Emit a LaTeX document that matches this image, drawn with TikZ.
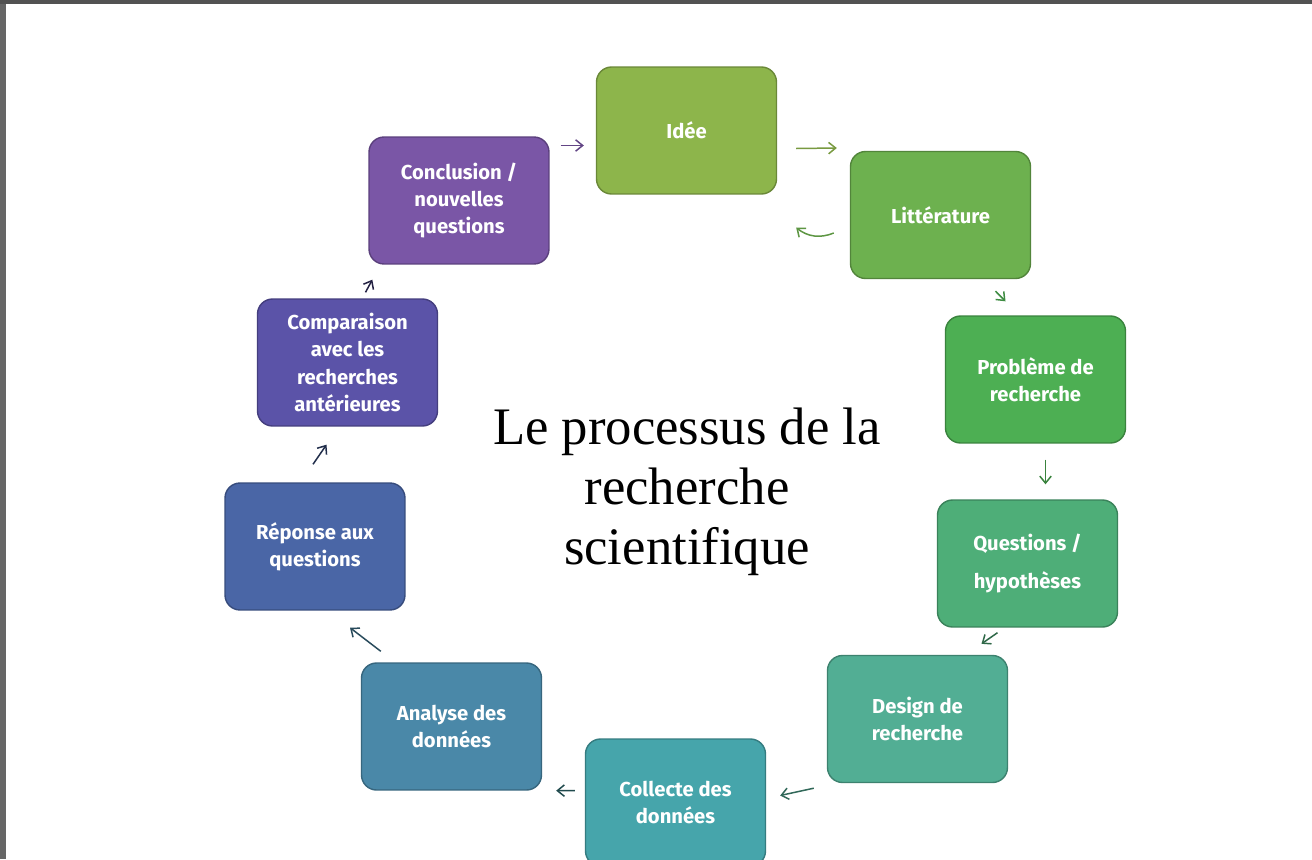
\documentclass[tikz,border=0pt]{standalone}
\usepackage{fontspec}
\setmainfont{Liberation Serif}
\setsansfont{Fira Sans}
\usetikzlibrary{calc,arrows.meta}

% Colours of the steps, from green to purple
\definecolor{cIdee}{HTML}{8DB54B}
\definecolor{cLitt}{HTML}{6DB14F}
\definecolor{cProb}{HTML}{4DAF53}
\definecolor{cQuest}{HTML}{4EAE78}
\definecolor{cDesign}{HTML}{52AE94}
\definecolor{cCollecte}{HTML}{46A5AB}
\definecolor{cAnalyse}{HTML}{4A88A8}
\definecolor{cReponse}{HTML}{4A66A6}
\definecolor{cComp}{HTML}{5B53A8}
\definecolor{cConcl}{HTML}{7A56A6}

\begin{document}
\begin{tikzpicture}[x=0.02cm, y=-0.02cm]

        % One unit is one pixel of the reference, y runs downwards
        \tikzset{
            etape/.style={draw=#1!75!black, fill=#1, line width=0.8pt,
                rounded corners=0.3cm, minimum width=3.6cm, minimum height=2.54cm,
                align=center, text=white,
                font=\sffamily\bfseries\fontsize{11.5}{15.5}\selectfont},
            fleche/.style={draw=#1, line width=0.85pt,
                -{Straight Barb[length=4pt, width=6.5pt]}}
        }

        % Page with the grey frame on the left and on top
        \clip (0, 0) rectangle (1312, 859);
        \fill[white] (0, 0) rectangle (1312, 859);
        \fill[black!60] (0, 0) rectangle (6, 859);
        \fill[black!68] (0, 0) rectangle (1312, 4);

        % Steps of the cycle, clockwise from the top
        \begin{scope}
            \node[etape=cIdee] (idee) at (686.5, 130.5) {Idée};
            \node[etape=cLitt] (litt) at (940.5, 215) {Littérature};
            \node[etape=cProb] (prob) at (1035.5, 379.5) {Problème de\\recherche};
            \node[etape=cQuest] (quest) at (1027.5, 563.5) {Questions /\\[6pt]hypothèses};
            \node[etape=cDesign] (design) at (917.5, 719) {Design de\\recherche};
            \node[etape=cCollecte] (collecte) at (675.5, 802.5) {Collecte des\\données};
            \node[etape=cAnalyse] (analyse) at (451.5, 726.5) {Analyse des\\données};
            \node[etape=cReponse] (reponse) at (315, 546.5) {Réponse aux\\questions};
            \node[etape=cComp] (comp) at (347.5, 362.5) {Comparaison\\avec les\\recherches\\antérieures};
            \node[etape=cConcl] (concl) at (459, 200.5) {Conclusion /\\nouvelles\\questions};
        \end{scope}

        % Title in the middle of the cycle
        \node[font=\fontsize{30}{34}\selectfont, align=center] (titre)
            at (687, 492) {Le processus de la\\recherche\\scientifique};

        % Small arrows between the steps
        \begin{scope}
            \draw[fleche=cConcl!80!black] ($(concl.east)+(11,-55)$) -- ($(idee.west)+(-12,15)$);
            \draw[fleche=cIdee!85!black] ($(idee.east)+(19,18)$) -- ($(litt.west)+(-13,-67)$);
            \draw[fleche=cLitt!85!black] ($(litt.west)+(-16,18)$)
                to[bend left=30] ($(idee.south east)+(19,33)$);
            \draw[fleche=cProb!80!black] ($(litt.south)+(55,12)$) -- ($(prob.north)+(-30,-14)$);
            \draw[fleche=cProb!75!black] ($(prob.south)+(10,16)$) -- ($(quest.north)+(18,-15)$);
            \draw[fleche=cQuest!60!black] ($(quest.south)+(-30,5)$) -- ($(design.north)+(64,-11)$);
            \draw[fleche=cDesign!60!black] ($(design.south west)+(-13,5)$) -- ($(collecte.east)+(14,-7)$);
            \draw[fleche=cCollecte!45!black] ($(collecte.west)+(-10,-12)$) -- ($(analyse.south east)+(14,0)$);
            \draw[fleche=cAnalyse!55!black] ($(analyse.north west)+(20,-11)$) -- ($(reponse.south)+(35,17)$);
            \draw[fleche=cReponse!45!black] ($(reponse.north)+(-2,-18)$) -- ($(comp.south)+(-21,18)$);
            \draw[fleche=cComp!40!black] ($(comp.north)+(18,-6)$) -- ($(concl.south west)+(4,15)$);
        \end{scope}

\end{tikzpicture}
\end{document}
